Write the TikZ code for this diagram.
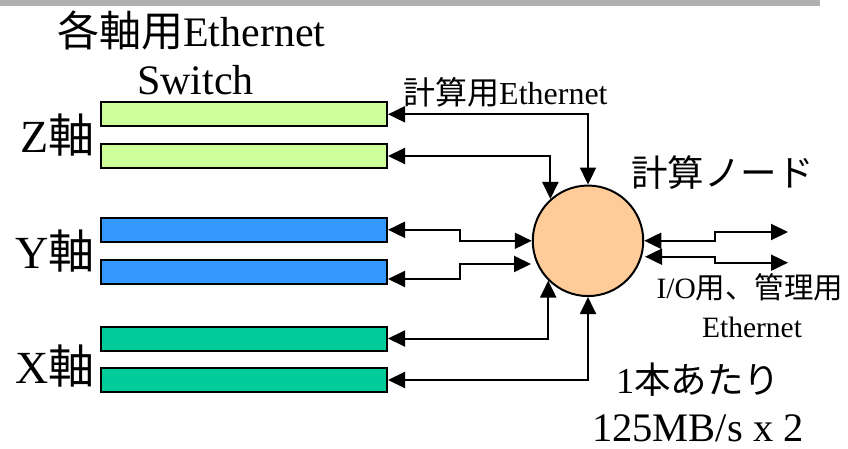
\documentclass[tikz,border=0pt]{standalone}
\usepackage{fontspec}
\setmainfont{Liberation Serif}
\newfontfamily\cjk{Noto Sans CJK JP}
\usetikzlibrary{arrows.meta}
\definecolor{zaxis}{HTML}{CCFF99}
\definecolor{yaxis}{HTML}{3399FF}
\definecolor{xaxis}{HTML}{00CC99}
\definecolor{nodefill}{HTML}{FFCC99}
\definecolor{topbar}{HTML}{B0B0B0}
\begin{document}
\begin{tikzpicture}[x=1pt,y=-1pt,
  switchbar/.style={draw=black, line width=2pt, minimum width=286pt,
    minimum height=24pt, inner sep=0pt},
  computenode/.style={circle, draw=black, line width=2pt, fill=nodefill,
    minimum size=110.5pt, inner sep=0pt},
  link/.style={line width=2pt,
    {Triangle[length=17pt,width=16pt]}-{Triangle[length=17pt,width=16pt]}},
  lbl/.style={inner sep=0pt, font=\fontsize{#1}{#1}\selectfont},
]
\useasboundingbox (0,0) rectangle (848,449);
% header strip
\fill[topbar] (0,0) rectangle (820,6);

% switch bars, two per axis
\node[switchbar, fill=zaxis] (z1) at (244,114.3) {};
\node[switchbar, fill=zaxis] (z2) at (244,156) {};
\node[switchbar, fill=yaxis] (y1) at (244,229.8) {};
\node[switchbar, fill=yaxis] (y2) at (244,271.5) {};
\node[switchbar, fill=xaxis] (x1) at (244,338.5) {};
\node[switchbar, fill=xaxis] (x2) at (244,380) {};

% compute node
\node[computenode] (cn) at (588,240.8) {};

% labels
\node[lbl=42, anchor=base west] (title1) at (57,47) {{\cjk 各軸用}Ethernet};
\node[lbl=42, anchor=base west] (title2) at (137,95) {Switch};
\node[lbl=46, anchor=base east] (zlab) at (95,153) {Z{\cjk 軸}};
\node[lbl=46, anchor=base east] (ylab) at (95,268) {Y{\cjk 軸}};
\node[lbl=46, anchor=base east] (xlab) at (95,383) {X{\cjk 軸}};
\node[lbl=32, anchor=base west] (calclab) at (403,105) {{\cjk 計算用}Ethernet};
\node[lbl=36.5, anchor=center] (cnlab) at (722.5,172.5) {\cjk 計算ノード};
\node[lbl=29.5, anchor=base] (iolab1) at (750,298) {I/O{\cjk 用、管理用}};
\node[lbl=29.5, anchor=base] (iolab2) at (752,337) {Ethernet};
\node[lbl=36.5, anchor=base west] (ratelab1) at (616,393) {1{\cjk 本あたり}};
\node[lbl=40.5, anchor=base west] (ratelab2) at (592,441) {125MB/s x 2};

% free ends of the links
\coordinate (y2in) at (531,264);
\coordinate (cnr2) at (645,256.7);
\coordinate (out1) at (788,232);
\coordinate (out2) at (788,262.7);

% links between switches and the compute node
\draw[link] (z1.east) -| (cn.north);
\draw[link] (z2.east) -| (cn.132.7);
\draw[link] (y1.east) -- ++(72,0) |- (cn.west);
\draw[link] ([yshift=-7.5pt]y2.east) -- ++(72,0) |- (y2in);
\draw[link] (x1.east) -| (cn.-135.6);
\draw[link] (x2.east) -| (cn.south);

% I/O and management links
\draw[link] (cn.east) -- ++(71,0) |- (out1);
\draw[link] (cnr2) -- ++(70,0) |- (out2);
\end{tikzpicture}
\end{document}
